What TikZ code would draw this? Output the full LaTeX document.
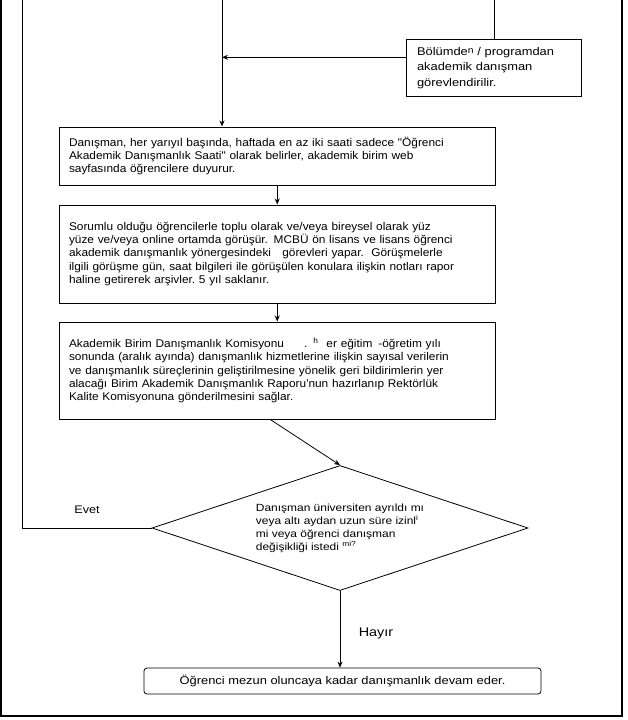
\documentclass[tikz,border=0pt]{standalone}
\usepackage{fontspec}
\setmainfont{Liberation Sans}[FakeStretch=1.15, Ligatures=TeXOff]
\newfontfamily\darfont{Liberation Sans}[FakeStretch=1.06, Ligatures=TeXOff]
\usetikzlibrary{shapes.geometric,arrows.meta}

\begin{document}
\begin{tikzpicture}[x=1pt,y=-1pt,
		box/.style={draw, line width=1pt, text width=416.5pt, inner xsep=10pt, align=left,
				font=\darfont\fontsize{11.2}{13.3}\selectfont},
		decision/.style={draw, diamond, aspect=3, line width=0.8pt, inner sep=1pt,
				minimum width=376pt, minimum height=125pt, align=left,
				font=\fontsize{10.4}{13}\selectfont},
		endbox/.style={draw, rounded corners=3pt, line width=0.8pt,
				minimum width=397pt, minimum height=26pt,
				font=\fontsize{11.2}{13.3}\selectfont},
		arr/.style={-{Stealth[length=6pt,width=5pt]}, line width=0.8pt}]
		\useasboundingbox (0,0) rectangle (628,720);

		% page frame, open at the top
		\draw[line width=1.2pt] (1,0) -- (1,716) -- (622,716) -- (622,0);

		\coordinate (girisA) at (222,0);
		\coordinate (girisB) at (494.5,0);
		\coordinate (donus) at (22,0);

		\node[box, text width=153pt, inner xsep=11pt, minimum height=57.4pt,
			font=\fontsize{11.2}{15.5}\selectfont] (atama) at (493.5,68)
			{Bölümde\raisebox{2pt}{\fontsize{9}{9}\selectfont n} / programdan\\ akademik danışman\\ görevlendirilir.};

		\node[box, minimum height=58pt] (saat) at (277.25,156)
			{Danışman, her yarıyıl başında, haftada en az iki saati sadece "Öğrenci\\
				Akademik Danışmanlık Saati" olarak belirler, akademik birim web\\
				sayfasında öğrencilere duyurur.};

		\node[box, minimum height=98pt] (gorusme) at (277.25,254)
			{Sorumlu olduğu öğrencilerle toplu olarak ve/veya bireysel olarak yüz\\
				yüze ve/veya online ortamda görüşür. MCBÜ ön lisans ve lisans öğrenci\\
				akademik danışmanlık yönergesindeki\ \ \ görevleri yapar.\ \ Görüşmelerle\\
				ilgili görüşme gün, saat bilgileri ile görüşülen konulara ilişkin notları rapor\\
				haline getirerek arşivler.\ 5 yıl saklanır.};

		\node[box, minimum height=97pt] (rapor) at (277.25,370.5)
			{Akademik Birim Danışmanlık Komisyonu\hspace{20pt}.\hspace{6pt}\textsuperscript{h}\hspace{8pt}er eğitim\hspace{6pt}-öğretim yılı\\
				sonunda (aralık ayında) danışmanlık hizmetlerine ilişkin sayısal verilerin\\
				ve danışmanlık süreçlerinin geliştirilmesine yönelik geri bildirimlerin yer\\
				alacağı Birim Akademik Danışmanlık Raporu'nun hazırlanıp Rektörlük\\
				Kalite Komisyonuna gönderilmesini sağlar.};

		\node[decision] (karar) at (340,528)
			{Danışman üniversiten ayrıldı mı\\
				veya altı aydan uzun süre izinl\textsuperscript{i}\\
				mi veya öğrenci danışman\\
				değişikliği istedi \textsuperscript{mi?}};

		\node[endbox] (mezun) at (342.5,681) {Öğrenci mezun oluncaya kadar danışmanlık devam eder.};

		\node[font=\fontsize{11}{13}\selectfont] (evet) at (87,510) {Evet};
		\node[font=\fontsize{12.5}{15}\selectfont] (hayir) at (376,633) {Hayır};

		\coordinate (atamaUc) at ([yshift=10.7pt]atama.west);

		\draw[arr] (girisA) -- (girisA |- saat.north);
		\draw[line width=0.8pt] (girisB) -- (girisB |- atama.north);
		\draw[arr, line width=1.6pt] (atamaUc) -- (atamaUc -| girisA);
		\draw[arr] (saat.south) -- (gorusme.north);
		\draw[arr] (gorusme.south) -- (rapor.north);
		\draw[arr] ([xshift=-7pt]rapor.south) -- (karar.north);
		\draw[line width=0.8pt] (karar.west) -- (karar.west -| donus) -- (donus);
		\draw[arr] (karar.south) -- (karar.south |- mezun.north);
	\end{tikzpicture}
\end{document}
